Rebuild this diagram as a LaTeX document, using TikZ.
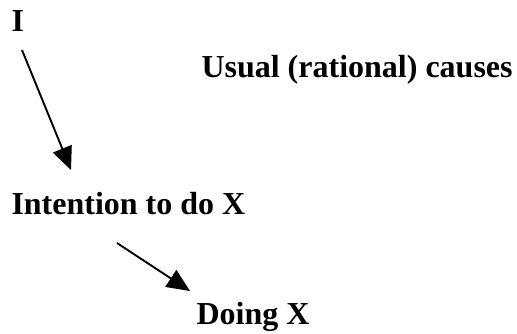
\documentclass[tikz,border=0pt]{standalone}
\usepackage{fontspec}
\setmainfont{Liberation Serif}
\usetikzlibrary{arrows.meta}
\begin{document}
\begin{tikzpicture}[x=1bp,y=-1bp,
  lbl/.style={anchor=base west,inner sep=0pt,outer sep=0pt,font=\fontsize{32bp}{38bp}\selectfont\bfseries},
  arr/.style={line width=1.9bp,-{Triangle[length=23bp,width=20bp]}}]
\useasboundingbox (0,0) rectangle (517,333);
\node[lbl] (i) at (11.5,31) {I};
\node[lbl] (usual) at (201.5,77) {Usual (rational) causes};
\node[lbl] (int) at (11.5,214) {Intention to do X};
\node[lbl] (doing) at (196.5,324) {Doing X};
\coordinate (a1s) at (22,50);
\coordinate (a1e) at (71,170);
\coordinate (a2s) at (117,243);
\coordinate (a2e) at (190,291);
\draw[arr] (a1s) -- (a1e);
\draw[arr] (a2s) -- (a2e);
\end{tikzpicture}
\end{document}
